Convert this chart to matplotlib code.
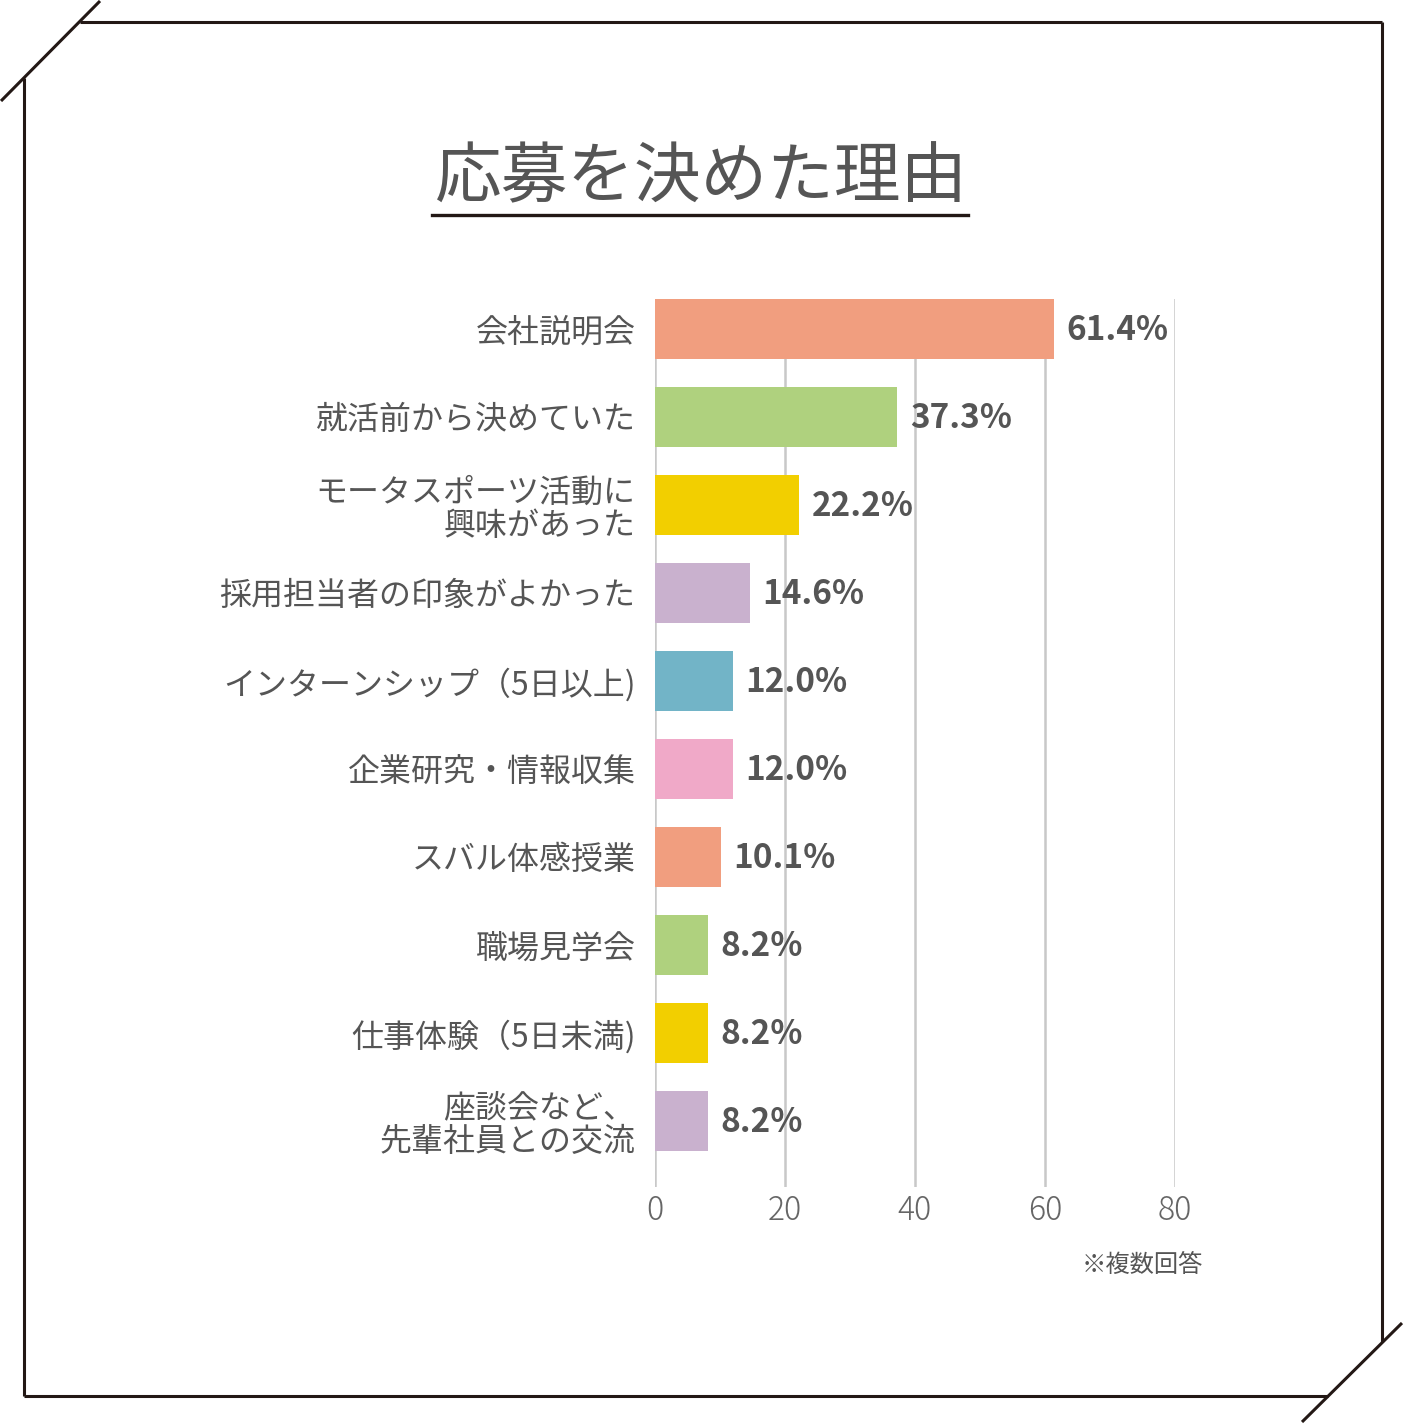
import matplotlib.pyplot as plt
from matplotlib.lines import Line2D

plt.rcParams['font.family'] = ['Noto Sans CJK JP', 'DejaVu Sans']

categories = [
    '会社説明会',
    '就活前から決めていた',
    'モータスポーツ活動に\n興味があった',
    '採用担当者の印象がよかった',
    'インターンシップ（5日以上)',
    '企業研究・情報収集',
    'スバル体感授業',
    '職場見学会',
    '仕事体験（5日未満)',
    '座談会など、\n先輩社員との交流',
]
values = [61.4, 37.3, 22.2, 14.6, 12.0, 12.0, 10.1, 8.2, 8.2, 8.2]
colors = ['#F19E7F', '#AFD17E', '#F2CF00', '#C9B1CE', '#72B4C7',
          '#F0A9C8', '#F19E7F', '#AFD17E', '#F2CF00', '#C9B1CE']
xticks = [0, 20, 40, 60, 80]

W, H = 1404, 1424
fig = plt.figure(figsize=(W / 100, H / 100), dpi=100)

# frame with cut corners, drawn in figure pixels
def px(x, y):
    return x / W, 1 - y / H

frame = [
    [(80, 22), (1382, 22)],
    [(1382, 22), (1382, 1342)],
    [(24, 78), (24, 1396)],
    [(24, 1396), (1328, 1396)],
    [(1, 101), (100, 1)],
    [(1302, 1422), (1402, 1323)],
]
for (x0, y0), (x1, y1) in frame:
    a, b = px(x0, y0)
    c, d = px(x1, y1)
    fig.add_artist(Line2D([a, c], [b, d], transform=fig.transFigure,
                          color='#231815', lw=2.2, solid_capstyle='butt'))

# title with underline
tx, ty = px(701, 179)
fig.text(tx, ty, '応募を決めた理由', ha='center', va='center',
         fontsize=48, color='#555555')
a, b = px(432, 215)
c, d = px(968, 215)
fig.add_artist(Line2D([a, c], [b, d], transform=fig.transFigure,
                      color='#231815', lw=2.4))

# axes
left, right = 655 / W, 1175 / W
bottom, top = 1 - 1187 / H, 1 - 299 / H
ax = fig.add_axes([left, bottom, right - left, top - bottom])

ypos = list(range(len(categories)))
ax.barh(ypos, values, height=0.68, color=colors, zorder=3)
ax.set_xlim(0, 80)
ax.set_ylim(9.75, -0.34)
ax.set_xticks(xticks)
ax.set_xticklabels([str(t) for t in xticks], fontsize=23,
                   color='#666666', fontweight='light')
ax.set_yticks(ypos)
ax.set_yticklabels(categories, fontsize=23, color='#555555',
                   linespacing=1.08)
ax.tick_params(axis='both', length=0)
ax.tick_params(axis='x', pad=5)
ax.tick_params(axis='y', pad=14)
for s in ax.spines.values():
    s.set_visible(False)
ax.xaxis.grid(True, color='#C8C8C8', lw=1.8, zorder=0)
ax.set_axisbelow(True)

for y, v in zip(ypos, values):
    ax.annotate(f'{v:.1f}%', (v, y), xytext=(9, -1),
                textcoords='offset points', ha='left', va='center',
                fontsize=24, fontweight='bold', color='#555555')

nx, ny = px(1203, 1265)
fig.text(nx, ny, '※複数回答', ha='right', va='center',
         fontsize=17.5, color='#555555')

fig.savefig('out.png', dpi=100, facecolor='white')
